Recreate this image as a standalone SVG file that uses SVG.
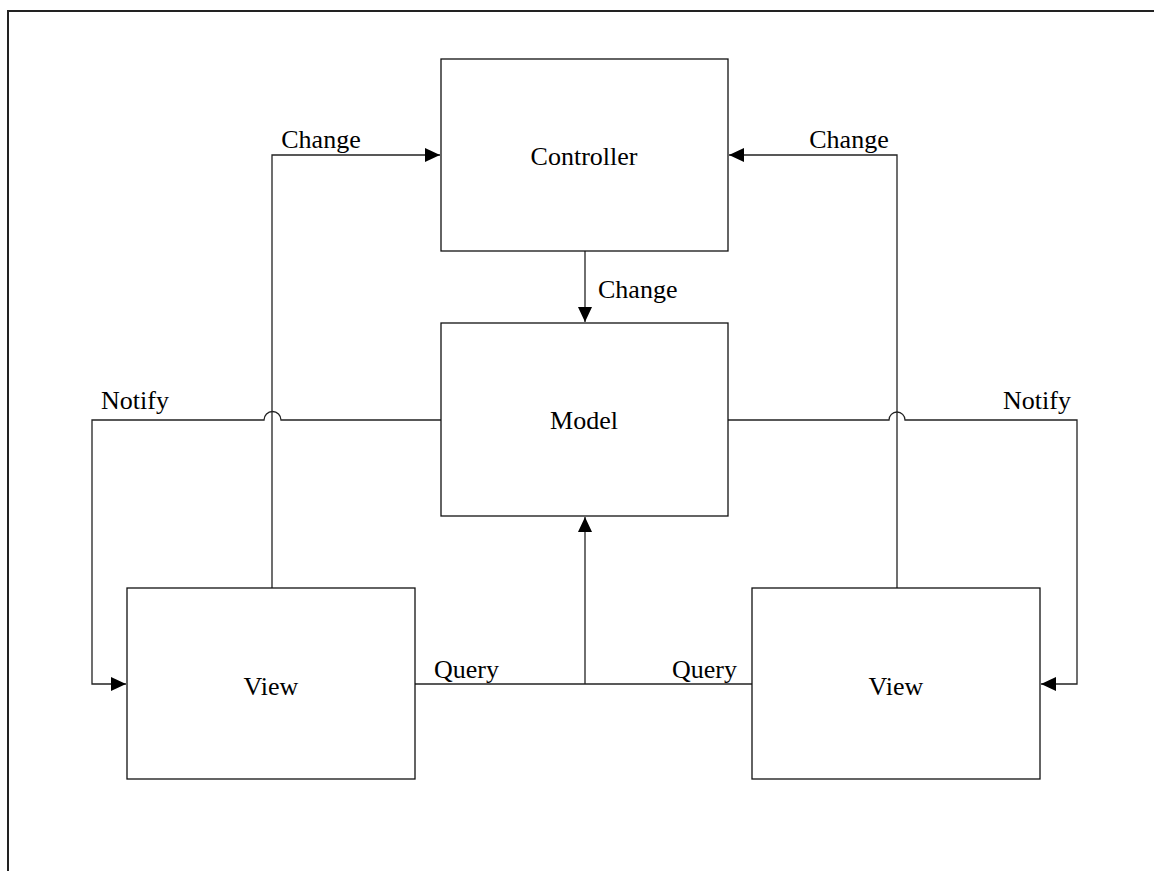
<svg xmlns="http://www.w3.org/2000/svg" width="1154" height="871" viewBox="0 0 1154 871">
  <defs>
    <marker id="arrow" markerUnits="userSpaceOnUse" markerWidth="16" markerHeight="14" viewBox="0 0 16 14" refX="15" refY="7" orient="auto">
      <path d="M0,0 L15,7 L0,14 Z" fill="#000"/>
    </marker>
    <style>
      .frame { fill: none; stroke: #222; stroke-width: 2; }
      .box { fill: #fff; stroke: #111; stroke-width: 1.3; }
      .wire { fill: none; stroke: #222; stroke-width: 1.3; }
      .arrow { marker-end: url(#arrow); }
      text { font-family: "Liberation Serif", "Times New Roman", serif; font-size: 26px; fill: #000; }
      .mid { text-anchor: middle; }
    </style>
  </defs>

  <!-- page frame (top and left edges) -->
  <path class="frame" d="M8,871 V11 H1154"/>

  <!-- connectors -->
  <g id="connectors">
    <!-- left view -> controller (Change), with hop over the notify line -->
    <path class="wire arrow" d="M272,588 V155 H440"/>
    <!-- right view -> controller (Change), with hop over the notify line -->
    <path class="wire arrow" d="M897,588 V155 H729"/>
    <!-- controller -> model (Change) -->
    <path class="wire arrow" d="M585,251 V322"/>
    <!-- model -> left view (Notify) -->
    <path class="wire arrow" d="M441,420 H281 A8.5,8.5 0 0 0 264,420 H92 V684 H126"/>
    <!-- model -> right view (Notify) -->
    <path class="wire arrow" d="M728,420 H889 A8,8 0 0 1 905,420 H1077 V684 H1041"/>
    <!-- views -> model (Query) -->
    <path class="wire" d="M415,684 H752"/>
    <path class="wire arrow" d="M585,684 V517"/>
    <text x="321" y="148" class="mid">Change</text>
    <text x="849" y="148" class="mid">Change</text>
    <text x="598" y="298">Change</text>
    <text x="101" y="409">Notify</text>
    <text x="1003" y="409">Notify</text>
    <text x="434" y="678">Query</text>
    <text x="672" y="678">Query</text>
  </g>

  <g id="controller">
    <rect class="box" x="441" y="59" width="287" height="192"/>
    <text x="584" y="165" class="mid">Controller</text>
  </g>

  <g id="model">
    <rect class="box" x="441" y="323" width="287" height="193"/>
    <text x="584" y="429" class="mid">Model</text>
  </g>

  <g id="view-left">
    <rect class="box" x="127" y="588" width="288" height="191"/>
    <text x="271" y="695" class="mid">View</text>
  </g>

  <g id="view-right">
    <rect class="box" x="752" y="588" width="288" height="191"/>
    <text x="896" y="695" class="mid">View</text>
  </g>
</svg>
